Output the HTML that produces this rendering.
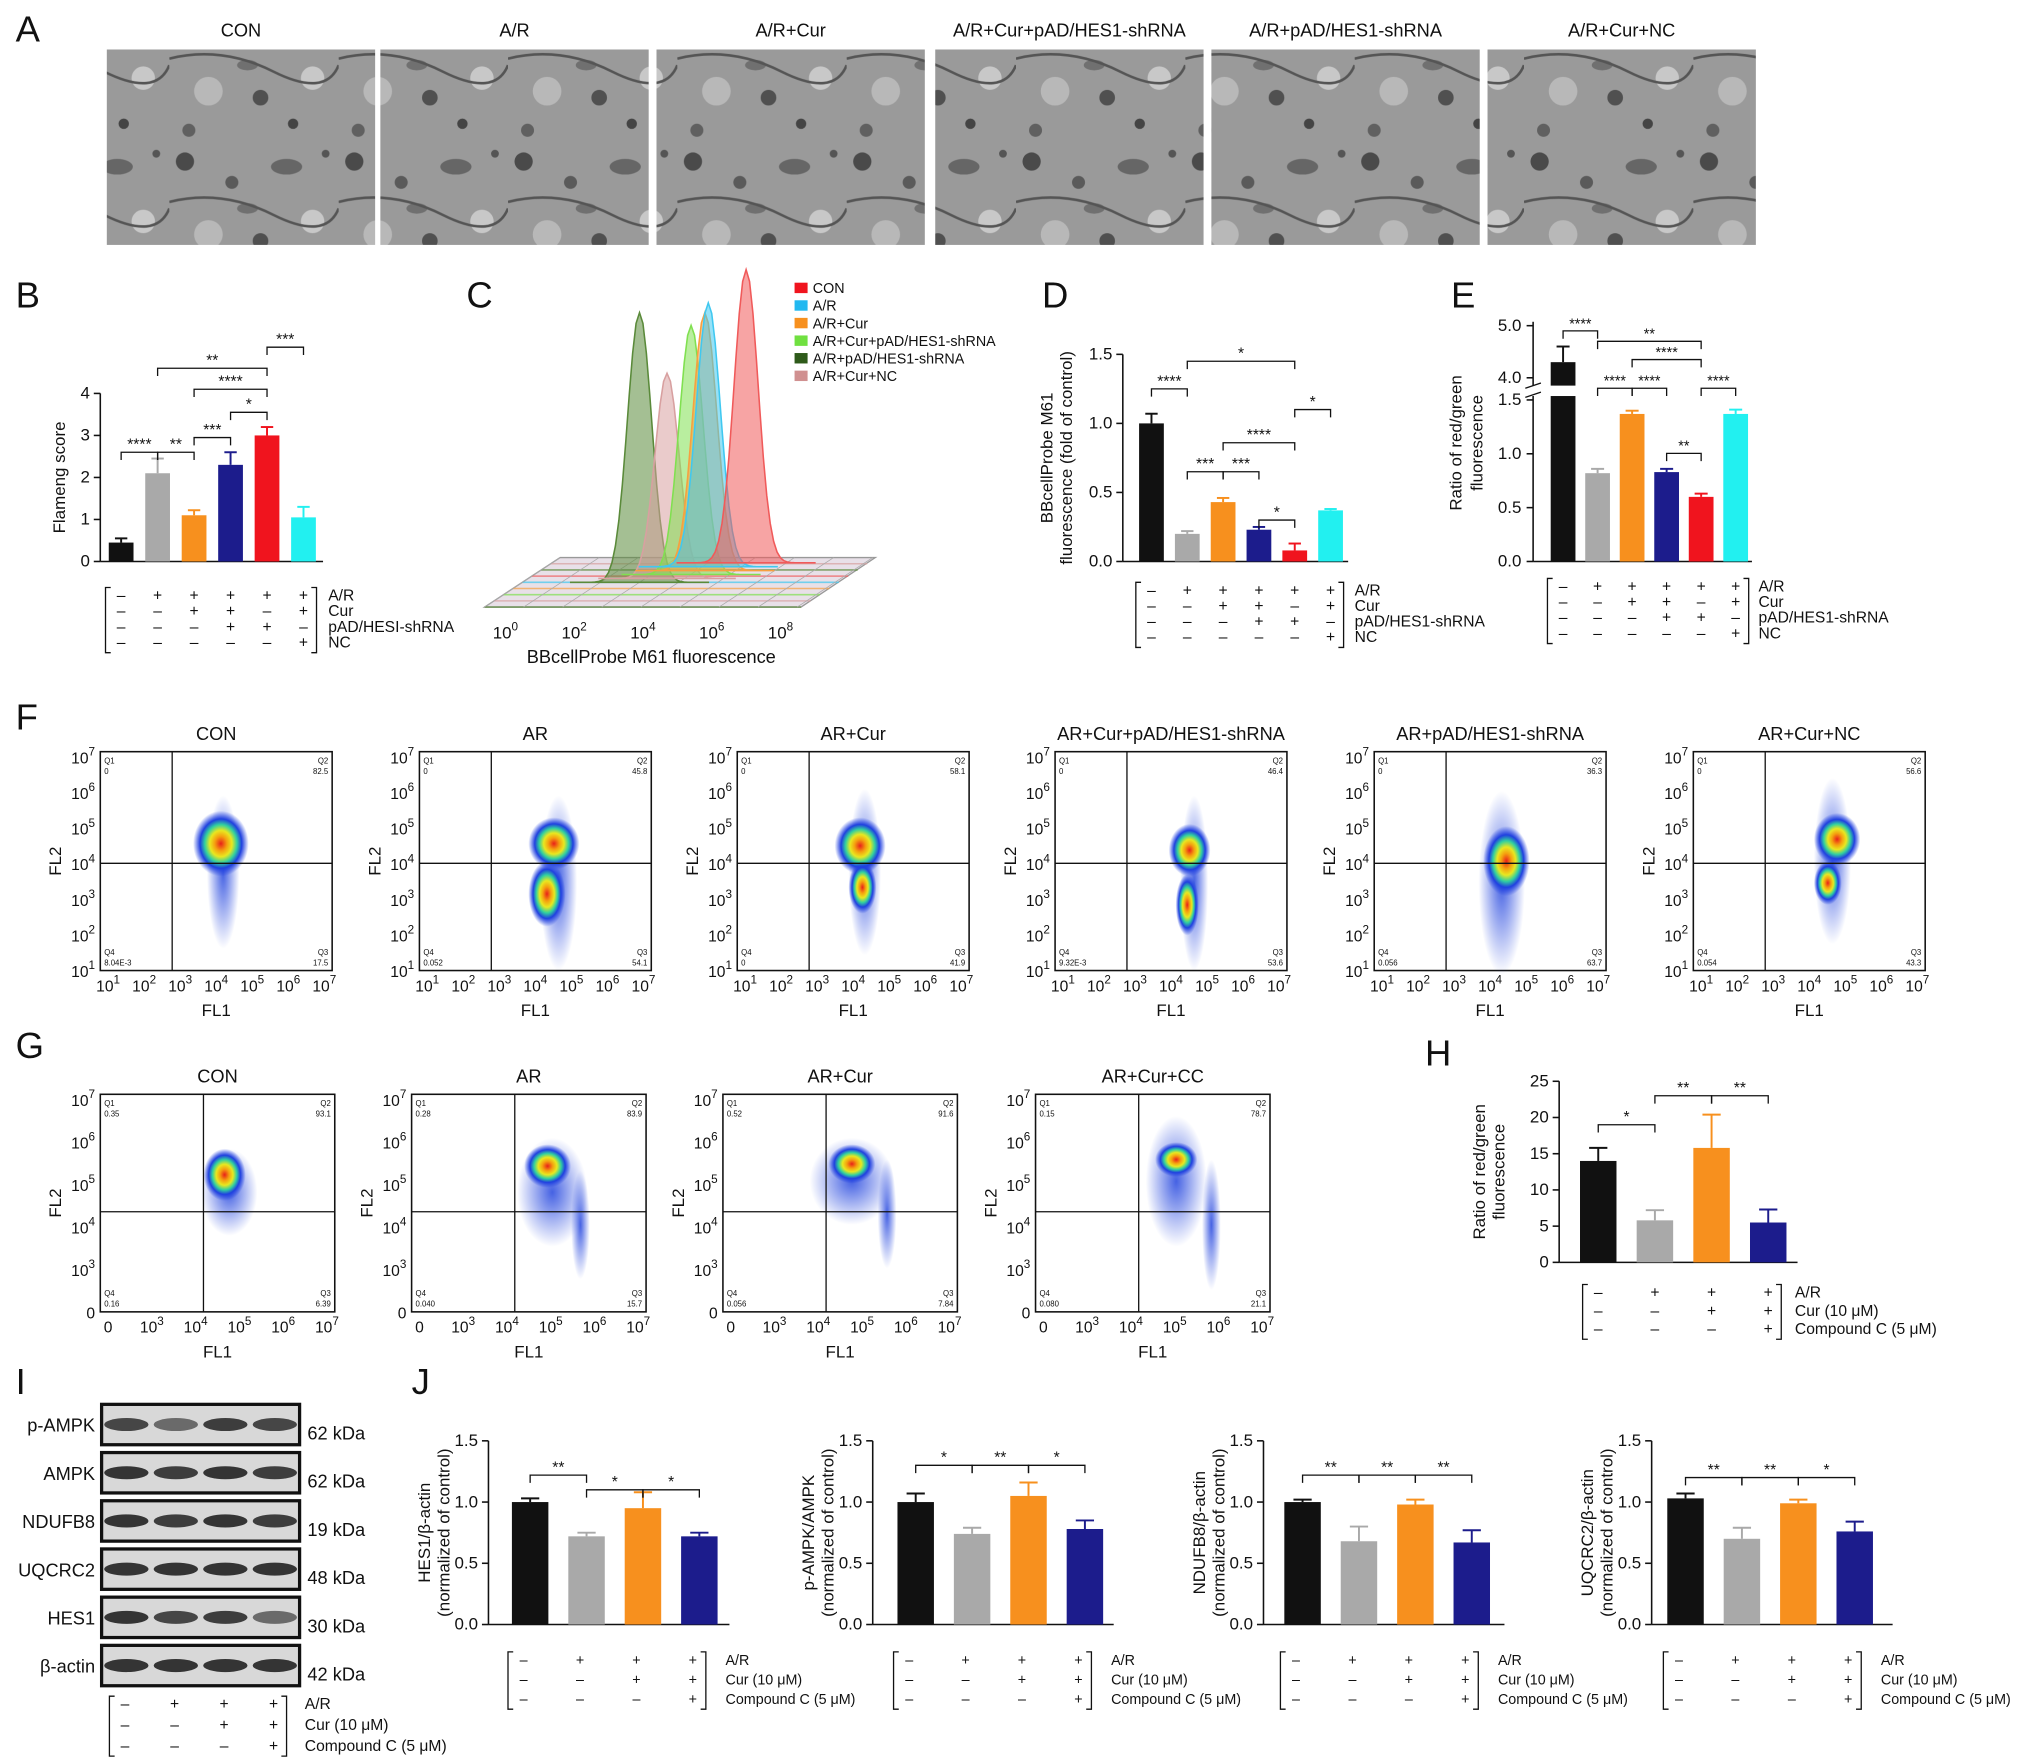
<!DOCTYPE html>
<html><head><meta charset="utf-8"><style>
html,body{margin:0;padding:0;background:#fff}
svg{display:block;font-family:"Liberation Sans",Arial,sans-serif}
</style></head><body>
<svg id="fig" width="2032" height="1760" viewBox="0 0 1560 1351" preserveAspectRatio="none" xmlns="http://www.w3.org/2000/svg">
<defs>
<radialGradient id="heat"><stop offset="0" stop-color="#e8201a"/><stop offset="0.22" stop-color="#f5a00f"/><stop offset="0.4" stop-color="#e8e820"/><stop offset="0.58" stop-color="#30d0a0"/><stop offset="0.75" stop-color="#2040e0"/><stop offset="1" stop-color="#2040e0" stop-opacity="0"/></radialGradient>
<radialGradient id="blueblob"><stop offset="0" stop-color="#3050e0" stop-opacity="0.9"/><stop offset="1" stop-color="#3050e0" stop-opacity="0"/></radialGradient>
<pattern id="em" width="130" height="110" patternUnits="userSpaceOnUse"><rect width="130" height="110" fill="#9a9a9a"/>
<circle cx="12" cy="14" r="7" fill="#4a4a4a"/><circle cx="48" cy="30" r="5" fill="#5a5a5a"/><ellipse cx="90" cy="18" rx="12" ry="6" fill="#666"/><circle cx="110" cy="60" r="9" fill="#c8c8c8"/><circle cx="30" cy="70" r="11" fill="#b8b8b8"/><circle cx="70" cy="75" r="6" fill="#505050"/><circle cx="95" cy="95" r="4" fill="#444"/><circle cx="15" cy="100" r="5" fill="#606060"/><ellipse cx="60" cy="50" rx="8" ry="4" fill="#707070"/><path d="M0,45 Q40,35 80,55 T130,50" stroke="#555" stroke-width="2" fill="none"/><circle cx="120" cy="8" r="3" fill="#555"/></pattern>
</defs>
<g id="root"></g>
</svg>
<script>
// ---------- data ----------
const bCats=["CON","A/R","A/R+Cur","A/R+Cur+pAD","A/R+pAD","A/R+Cur+NC"];
const bVals=[0.45,2.1,1.1,2.3,3.0,1.05];
const bErrs=[0.1,0.35,0.12,0.3,0.2,0.25];
const dVals=[1.0,0.2,0.43,0.23,0.08,0.37];
const dErrs=[0.07,0.02,0.03,0.02,0.05,0.01];
const eVals=[4.3,0.82,1.37,0.83,0.6,1.37];
const eErrs=[0.3,0.04,0.03,0.03,0.03,0.04];
const hVals=[14,5.8,15.8,5.5];
const hErrs=[1.8,1.4,4.6,1.8];
const j1Vals=[1.0,0.72,0.95,0.72];const j1Errs=[0.03,0.03,0.13,0.03];
const j2Vals=[1.0,0.74,1.05,0.78];const j2Errs=[0.07,0.05,0.11,0.07];
const j3Vals=[1.0,0.68,0.98,0.67];const j3Errs=[0.02,0.12,0.04,0.1];
const j4Vals=[1.03,0.7,0.99,0.76];const j4Errs=[0.04,0.09,0.03,0.08];
const cCenters=[3.9,4.7,5.4,5.8,5.9,7.0];
const cHeights=[0.92,0.7,0.85,0.88,0.9,1.0];
const cNames=["A/R+pAD/HES1-shRNA","A/R+Cur+NC","A/R+Cur+pAD/HES1-shRNA","A/R+Cur","A/R","CON"];
const fTitles=["CON","AR","AR+Cur","AR+Cur+pAD/HES1-shRNA","AR+pAD/HES1-shRNA","AR+Cur+NC"];
const fQ2=["82.5","45.8","58.1","46.4","36.3","56.6"];
const fQ3=["17.5","54.1","41.9","53.6","63.7","43.3"];
const fQ4=["8.04E-3","0.052","0","9.32E-3","0.056","0.054"];
const gTitles=["CON","AR","AR+Cur","AR+Cur+CC"];
const gQ1=["0.35","0.28","0.52","0.15"],gQ2=["93.1","83.9","91.6","78.7"],gQ3=["6.39","15.7","7.84","21.1"],gQ4=["0.16","0.040","0.056","0.080"];

const NS="http://www.w3.org/2000/svg";
const root=document.getElementById('root');
function el(tag,attrs,parent,text){const e=document.createElementNS(NS,tag);for(const k in attrs)e.setAttribute(k,attrs[k]);if(text!==undefined)e.textContent=text;(parent||root).appendChild(e);return e;}
function T(x,y,s,size,anchor,parent,extra){const e=el('text',Object.assign({x:x,y:y,'font-size':size||12,'text-anchor':anchor||'start',fill:'#111'},extra||{}),parent,s);return e;}
function L(x1,y1,x2,y2,p,w){return el('line',{x1,y1,x2,y2,stroke:'#111','stroke-width':w||1.2},p);}
const COL6=["#111","#a9a9a9","#f7901e","#1c1c8c","#f0141e","#22f0f0"];
const COL4=["#111","#a9a9a9","#f7901e","#1c1c8c"];

// panel labels
[["A",12,32],["B",12,236],["C",358,236],["D",800,236],["E",1114,236],["F",12,560],["G",12,812],["H",1094,818],["I",12,1070],["J",316,1070]].forEach(a=>{const t=T(a[1],a[2],a[0],28);});

// Panel A
const aT=["CON","A/R","A/R+Cur","A/R+Cur+pAD/HES1-shRNA","A/R+pAD/HES1-shRNA","A/R+Cur+NC"];
const aX=[82,292,504,718,930,1142];
aT.forEach((t,i)=>{const g=el('g',{});
el('rect',{x:aX[i],y:38,width:206,height:150,fill:'url(#em)',transform:''},g);
T(aX[i]+103,28,t,14,'middle',g);});

// generic bar chart
function barChart(name,o,vals,errs,cols){
 const g=el('g',{});
 const ys=v=>o.yb-(v-o.vmin)/(o.vmax-o.vmin)*(o.yb-o.yt);
 L(o.ax,o.yt,o.ax,o.yb,g);L(o.ax,o.yb,o.xe,o.yb,g);
 o.ticks.forEach(t=>{L(o.ax-5,ys(t),o.ax,ys(t),g);T(o.ax-8,ys(t)+4,o.fmt?o.fmt(t):String(t),o.fs||13,'end',g);});
 T(0,0,o.ylab[0],o.lfs||13,'middle',g,{transform:`translate(${o.lx},${(o.yt+o.yb)/2}) rotate(-90)`});
 if(o.ylab[1])T(0,0,o.ylab[1],o.lfs||13,'middle',g,{transform:`translate(${o.lx+15},${(o.yt+o.yb)/2}) rotate(-90)`});
 vals.forEach((v,i)=>{const cx=o.x0+i*o.dx;const y=ys(v);
  const r=el('rect',{x:cx-o.bw/2,y:y,width:o.bw,height:o.yb-y,fill:cols[i]},g);
  const ye=ys(v+errs[i]);el('line',{x1:cx,y1:y,x2:cx,y2:ye,stroke:cols[i],'stroke-width':1.5},g);el('line',{x1:cx-o.bw/4,y1:ye,x2:cx+o.bw/4,y2:ye,stroke:cols[i],'stroke-width':1.5},g);});
 (o.sig||[]).forEach(s=>{const x1=o.x0+s[0]*o.dx,x2=o.x0+s[1]*o.dx,y=ys(s[2]);
  el('path',{d:`M${x1},${y+6}V${y}H${x2}V${y+6}`,fill:'none',stroke:'#111','stroke-width':1},g);T((x1+x2)/2,y-2,s[3],12,'middle',g);});
 return {g,ys};
}
function signTable(name,xs,y0,dy,rows,labels,lx,fs){
 const g=el('g',{});
 const xl=xs[0]-12,xr=xs[xs.length-1]+10,y1=y0-10,y2=y0+dy*(rows.length-1)+4;
 el('path',{d:`M${xl+4},${y1}H${xl}V${y2}H${xl+4}`,fill:'none',stroke:'#111'},g);
 el('path',{d:`M${xr-4},${y1}H${xr}V${y2}H${xr-4}`,fill:'none',stroke:'#111'},g);
 rows.forEach((r,j)=>{r.forEach((s,i)=>T(xs[i],y0+dy*j,s==='+'?'+':'–',fs||12,'middle',g));T(lx,y0+dy*j,labels[j],fs||11,'start',g);});
}
const rng=(a,d,n)=>Array.from({length:n},(_,i)=>a+i*d);

// Panel B
barChart('chart-b',{ax:77,xe:248,yt:302,yb:431,vmin:0,vmax:4,ticks:[0,1,2,3,4],x0:93,dx:28,bw:19,lx:50,ylab:['Flameng score'],
 sig:[[0,1,2.6,'****'],[1,2,2.6,'**'],[2,3,2.95,'***'],[3,4,3.55,'*'],[2,4,4.1,'****'],[1,4,4.6,'**'],[4,5,5.1,'***']]},bVals,bErrs,COL6);
signTable('table-b',rng(93,28,6),461,12,[['-','+','+','+','+','+'],['-','-','+','+','-','+'],['-','-','-','+','+','-'],['-','-','-','-','-','+']],['A/R','Cur','pAD/HESI-shRNA','NC'],252,12);

// Panel C
(function(){const g=el('g',{});
 el('polygon',{points:'372,466 615,466 672,428 430,428',fill:'#e8e0e8',stroke:'#999'},g);
 const fc=["#5a8a3a","#d8a0a0","#80e050","#f7a040","#40c8f0","#f05a5a"];
 for(let k=0;k<8;k++){const y=466-k*4.75,x=372+k*7.25;el('line',{x1:x,y1:y,x2:x+243,y2:y,stroke:fc[k%6],'stroke-width':1.2,opacity:0.7},g);}
 for(let k=0;k<9;k++){const x=372+k*30;el('line',{x1:x,y1:466,x2:x+58,y2:428,stroke:'#aaa','stroke-width':0.6},g);}
 const xs=v=>388+v*26.4;
 cCenters.forEach((c,i)=>{const base=432+ (5-i)*3,H=225*cHeights[i];let d=`M${xs(c-2)},${base}`;
  for(let t=-2;t<=2.001;t+=0.1){d+=`L${xs(c+t)},${base-H*Math.exp(-t*t/(2*0.35*0.35))}`;}d+=`L${xs(c+2)},${base}Z`;
  const p=el('path',{d,fill:fc[i],'fill-opacity':0.55,stroke:fc[i],'stroke-width':1.2},g);});
 [0,2,4,6,8].forEach(v=>{const t=T(xs(v),490,'10',13,'middle',g);el('tspan',{dy:-6,'font-size':9},t,String(v));});
 T(500,509,'BBcellProbe M61 fluorescence',14,'middle',g);
 const lg=["CON","A/R","A/R+Cur","A/R+Cur+pAD/HES1-shRNA","A/R+pAD/HES1-shRNA","A/R+Cur+NC"],lc=["#f0141e","#22b8f0","#f7901e","#70e040","#2e5a1a","#d09090"];
 lg.forEach((s,i)=>{const y=225+i*13.5;el('rect',{x:610,y:y-8,width:10,height:8,fill:lc[i]},g);T(624,y,s,11,'start',g);});})();

// Panel D
barChart('chart-d',{ax:862,xe:1035,yt:272,yb:431,vmin:0,vmax:1.5,ticks:[0,0.5,1,1.5],fmt:t=>t.toFixed(1),x0:884,dx:27.5,bw:19,lx:808,ylab:['BBcellProbe M61','fluorescence (fold of control)'],
 sig:[[0,1,1.25,'****'],[1,2,0.65,'***'],[2,3,0.65,'***'],[3,4,0.3,'*'],[2,4,0.86,'****'],[4,5,1.1,'*'],[1,4,1.45,'*']]},dVals,dErrs,COL6);
signTable('table-d',rng(884,27.5,6),457,12,[['-','+','+','+','+','+'],['-','-','+','+','-','+'],['-','-','-','+','+','-'],['-','-','-','-','-','+']],['A/R','Cur','pAD/HES1-shRNA','NC'],1040,12);

// Panel E (broken axis)
(function(){const g=el('g',{});
 const yl=v=>431-v/1.5*124, yu=v=>290-(v-4)*40;
 L(1177,247,1177,296,g);L(1177,304,1177,431,g);L(1177,431,1345,431,g);
 el('path',{d:'M1171,298L1183,294M1171,305L1183,301',stroke:'#111',fill:'none'},g);
 [0,0.5,1,1.5].forEach(t=>{L(1172,yl(t),1177,yl(t),g);T(1168,yl(t)+4,t.toFixed(1),13,'end',g);});
 [4,5].forEach(t=>{L(1172,yu(t),1177,yu(t),g);T(1168,yu(t)+4,t.toFixed(1),13,'end',g);});
 T(0,0,'Ratio of red/green',13,'middle',g,{transform:'translate(1122,340) rotate(-90)'});T(0,0,'fluorescence',13,'middle',g,{transform:'translate(1138,340) rotate(-90)'});
 const ys=v=>v>1.5?yu(v):yl(v);
 eVals.forEach((v,i)=>{const cx=1200+i*26.5,y=ys(v);const r=el('rect',{x:cx-9.5,y,width:19,height:431-y,fill:COL6[i]},g);
  const ye=ys(v+eErrs[i]);el('line',{x1:cx,y1:y,x2:cx,y2:ye,stroke:COL6[i],'stroke-width':1.5},g);el('line',{x1:cx-5,y1:ye,x2:cx+5,y2:ye,stroke:COL6[i],'stroke-width':1.5},g);});
 if(eVals[0]>1.5)el('rect',{x:1189,y:296,width:22,height:8,fill:'#fff'},g);
 [[0,1,254,'****'],[1,4,262,'**'],[2,4,276,'****'],[1,2,298,'****'],[2,3,298,'****'],[4,5,298,'****'],[3,4,348,'**']].forEach(s=>{const x1=1200+s[0]*26.5,x2=1200+s[1]*26.5;el('path',{d:`M${x1},${s[2]+6}V${s[2]}H${x2}V${s[2]+6}`,fill:'none',stroke:'#111'},g);T((x1+x2)/2,s[2]-2,s[3],11,'middle',g);});})();
signTable('table-e',rng(1200,26.5,6),454,12,[['-','+','+','+','+','+'],['-','-','+','+','-','+'],['-','-','-','+','+','-'],['-','-','-','-','-','+']],['A/R','Cur','pAD/HES1-shRNA','NC'],1350,12);

// flow plots
function sup(t,base,exp){t.textContent='';el('tspan',{},t,base);el('tspan',{dy:-6,'font-size':9},t,exp);}
function flow(name,x,y,w,h,qxf,qyf,title,yt,xt,q,blobs){
 const g=el('g',{});
 T(x+w/2,y-9,title,14,'middle',g);
 el('rect',{x,y,width:w,height:h,fill:'#fff',stroke:'#111','stroke-width':1.2},g);
 blobs.forEach(b=>el('ellipse',{cx:x+b[0]*w,cy:y+b[1]*h,rx:b[2]*w,ry:b[3]*h,fill:b[4]?'url(#blueblob)':'url(#heat)'},g));
 L(x+qxf*w,y,x+qxf*w,y+h,g,1);L(x,y+qyf*h,x+w,y+qyf*h,g,1);
 yt.forEach((s,i)=>{const yy=y+4+i*(h-4)/(yt.length-1);const t=T(x-4,yy+5,'',12,'end',g);if(s==='0')t.textContent='0';else sup(t,'10',s);});
 xt.forEach((s,i)=>{const xx=x+6+i*(w-12)/(xt.length-1);const t=T(xx,y+h+16,'',12,'middle',g);if(s==='0')t.textContent='0';else sup(t,'10',s);});
 T(x+w/2,y+h+35,'FL1',13,'middle',g);T(0,0,'FL2',13,'middle',g,{transform:`translate(${x-30},${y+h/2}) rotate(-90)`});
 T(x+3,y+9,'Q1',6,'start',g);T(x+3,y+17,q[0],6,'start',g);T(x+w-3,y+9,'Q2',6,'end',g);T(x+w-3,y+17,q[1],6,'end',g);
 T(x+3,y+h-12,'Q4',6,'start',g);T(x+3,y+h-4,q[3],6,'start',g);T(x+w-3,y+h-12,'Q3',6,'end',g);T(x+w-3,y+h-4,q[2],6,'end',g);
}
const fX=[77,322,566,810,1055,1300];
const fB=[[[0.53,0.55,0.07,0.35,1],[0.52,0.42,0.12,0.15]],[[0.6,0.6,0.08,0.4,1],[0.58,0.42,0.11,0.12],[0.55,0.65,0.08,0.15]],[[0.55,0.55,0.07,0.38,1],[0.53,0.43,0.11,0.13],[0.54,0.62,0.06,0.12]],[[0.6,0.6,0.06,0.4,1],[0.58,0.45,0.09,0.12],[0.57,0.7,0.05,0.14]],[[0.55,0.6,0.1,0.42,1],[0.57,0.5,0.1,0.16]],[[0.6,0.5,0.08,0.38,1],[0.62,0.4,0.1,0.12],[0.58,0.6,0.06,0.1]]];
fX.forEach((x,i)=>flow('flow-f-'+i,x,577,178,168,0.31,0.51,fTitles[i],['7','6','5','4','3','2','1'],['1','2','3','4','5','6','7'],['0',fQ2[i],fQ3[i],fQ4[i]],fB[i]));
const gX=[77,316,555,795];
const gB=[[[0.55,0.45,0.12,0.2,1],[0.53,0.37,0.09,0.12]],[[0.6,0.45,0.15,0.25,1],[0.58,0.33,0.1,0.1],[0.72,0.6,0.04,0.25,1]],[[0.55,0.4,0.18,0.2,1],[0.55,0.32,0.1,0.09],[0.7,0.55,0.04,0.25,1]],[[0.6,0.4,0.13,0.3,1],[0.6,0.3,0.09,0.08],[0.75,0.6,0.04,0.3,1]]];
gX.forEach((x,i)=>flow('flow-g-'+i,x,840,180,167,0.44,0.54,gTitles[i],['7','6','5','4','3','0'],['0','3','4','5','6','7'],[gQ1[i],gQ2[i],gQ3[i],gQ4[i]],gB[i]));

// Panel H
barChart('chart-h',{ax:1197,xe:1380,yt:830,yb:969,vmin:0,vmax:25,ticks:[0,5,10,15,20,25],x0:1227,dx:43.5,bw:28,lx:1140,ylab:['Ratio of red/green','fluorescence'],
 sig:[[0,1,19,'*'],[1,2,23,'**'],[2,3,23,'**']]},hVals,hErrs,COL4);
signTable('table-h',rng(1227,43.5,4),996,14,[['-','+','+','+'],['-','-','+','+'],['-','-','-','+']],['A/R','Cur (10 μM)','Compound C (5 μM)'],1378,12);

// Panel I blot
(function(){const g=el('g',{});
 const names=["p-AMPK","AMPK","NDUFB8","UQCRC2","HES1","β-actin"],kda=["62 kDa","62 kDa","19 kDa","48 kDa","30 kDa","42 kDa"];
 const inten=[[0.8,0.6,0.85,0.8],[0.9,0.85,0.9,0.85],[0.9,0.85,0.9,0.85],[0.9,0.9,0.9,0.9],[0.9,0.8,0.85,0.6],[0.9,0.9,0.9,0.9]];
 names.forEach((n,r)=>{const y=1078+r*37;el('rect',{x:78,y,width:152,height:31,fill:'#d8d8d8',stroke:'#111','stroke-width':2.5},g);
  inten[r].forEach((v,i)=>el('ellipse',{cx:97+i*38,cy:y+15.5,rx:17,ry:5,fill:'#222','fill-opacity':v},g));
  T(73,y+21,n,14,'end',g);T(236,y+27,kda[r],14,'start',g);});})();
signTable('table-i',rng(96,38,4),1312,16,[['-','+','+','+'],['-','-','+','+'],['-','-','-','+']],['A/R','Cur (10 μM)','Compound C (5 μM)'],234,12);

// Panel J
const jcfg=[
 {ax:375,x0:407,lab:['HES1/β-actin','(normalized of control)'],v:j1Vals,e:j1Errs,sig:[[0,1,1.22,'**'],[1,2,1.1,'*'],[2,3,1.1,'*']]},
 {ax:670,x0:703,lab:['p-AMPK/AMPK','(normalized of control)'],v:j2Vals,e:j2Errs,sig:[[0,1,1.3,'*'],[1,2,1.3,'**'],[2,3,1.3,'*']]},
 {ax:970,x0:1000,lab:['NDUFB8/β-actin','(normalized of control)'],v:j3Vals,e:j3Errs,sig:[[0,1,1.22,'**'],[1,2,1.22,'**'],[2,3,1.22,'**']]},
 {ax:1268,x0:1294,lab:['UQCRC2/β-actin','(normalized of control)'],v:j4Vals,e:j4Errs,sig:[[0,1,1.2,'**'],[1,2,1.2,'**'],[2,3,1.2,'*']]}];
jcfg.forEach((c,k)=>{barChart('chart-j-'+k,{ax:c.ax,xe:c.ax+185,yt:1106,yb:1247,vmin:0,vmax:1.5,ticks:[0,0.5,1,1.5],fmt:t=>t.toFixed(1),x0:c.x0,dx:43.3,bw:28,lx:c.ax-45,ylab:c.lab,sig:c.sig},c.v,c.e,COL4);
 signTable('table-j-'+k,rng(c.x0-5,43.3,4),1278,15,[['-','+','+','+'],['-','-','+','+'],['-','-','-','+']],['A/R','Cur (10 μM)','Compound C (5 μM)'],c.x0+150,11);});
</script>
</body></html>
